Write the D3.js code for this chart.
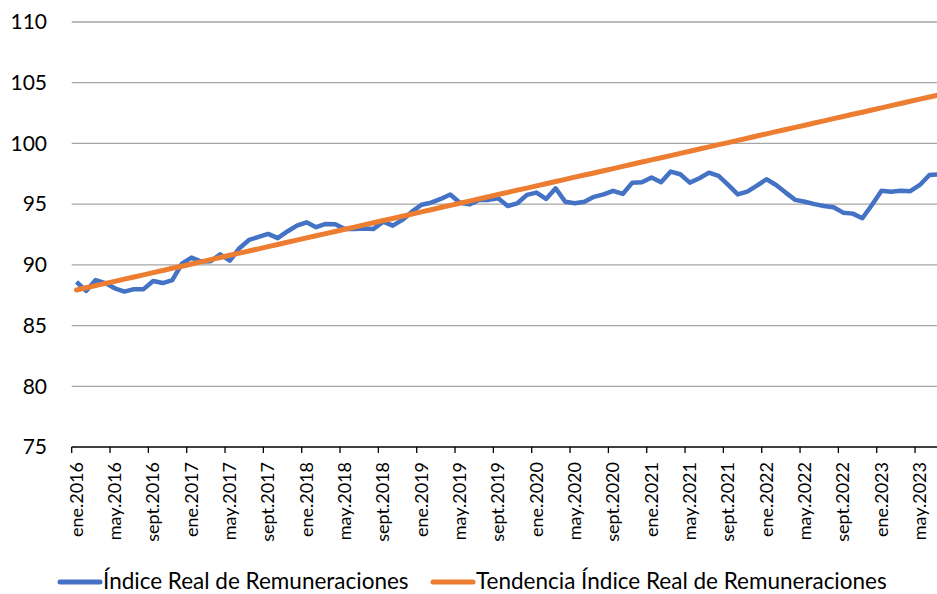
<!DOCTYPE html>
<html>
<head>
<meta charset="utf-8">
<script src="https://cdn.jsdelivr.net/npm/d3@7/dist/d3.min.js"></script>
<style>
  body { margin: 0; background: #fff; }
  svg { display: block; font-family: Lato, "Noto Sans", sans-serif; }
</style>
</head>
<body>
<div id="chart"></div>
<script>
// months and years used for the category labels
var months = ["ene", "feb", "mar", "abr", "may", "jun", "jul", "ago", "sept", "oct", "nov", "dic"]
var years = [2016, 2017, 2018, 2019, 2020, 2021, 2022, 2023]
var nMonths = 91 // ene.2016 .. jul.2023

var categories = []
for (var i = 0; i < nMonths; i++) {
  categories.push(months[i % 12] + "." + years[Math.floor(i / 12)])
}

// Indice Real de Remuneraciones
var indice = [
  88.6, 87.85, 88.75, 88.5, 88.07, 87.8, 88.0, 88.0, 88.67, 88.5, 88.75, 90.1,
  90.6, 90.27, 90.3, 90.87, 90.35, 91.37, 92.05, 92.3, 92.55, 92.2, 92.75, 93.23,
  93.5, 93.1, 93.37, 93.35, 92.96, 92.96, 93.0, 92.96, 93.56, 93.23, 93.7, 94.38,
  94.95, 95.12, 95.43, 95.8, 95.12, 94.98, 95.35, 95.35, 95.48, 94.85, 95.07, 95.76,
  95.95, 95.43, 96.3, 95.2, 95.07, 95.2, 95.6, 95.8, 96.1, 95.84, 96.77, 96.8,
  97.2, 96.8, 97.68, 97.46, 96.77, 97.13, 97.6, 97.32, 96.58, 95.8, 96.03, 96.52,
  97.05, 96.58, 95.95, 95.35, 95.2, 95.0, 94.85, 94.74, 94.3, 94.22, 93.84, 94.93,
  96.1, 96.03, 96.1, 96.07, 96.58, 97.4, 97.46
]

// Tendencia Indice Real de Remuneraciones
var tendencia = [
  87.93, 88.11, 88.29, 88.47, 88.64, 88.82, 89.00, 89.18, 89.36, 89.54, 89.72, 89.89,
  90.07, 90.25, 90.43, 90.61, 90.79, 90.97, 91.14, 91.32, 91.50, 91.68, 91.86, 92.04,
  92.22, 92.40, 92.57, 92.75, 92.93, 93.11, 93.29, 93.47, 93.65, 93.82, 94.00, 94.18,
  94.36, 94.54, 94.72, 94.90, 95.07, 95.25, 95.43, 95.61, 95.79, 95.97, 96.15, 96.32,
  96.50, 96.68, 96.86, 97.04, 97.22, 97.40, 97.57, 97.75, 97.93, 98.11, 98.29, 98.47,
  98.65, 98.82, 99.00, 99.18, 99.36, 99.54, 99.72, 99.90, 100.07, 100.25, 100.43, 100.61,
  100.79, 100.97, 101.15, 101.32, 101.50, 101.68, 101.86, 102.04, 102.22, 102.40, 102.57, 102.75,
  102.93, 103.11, 103.29, 103.47, 103.65, 103.82, 104.00
]

var yTicks = [75, 80, 85, 90, 95, 100, 105, 110]

var seriesNames = ["Índice Real de Remuneraciones", "Tendencia Índice Real de Remuneraciones"]
var colors = ["#4472C4", "#ED7D31"]

var W = 937, H = 594
var plotLeft = 71.7, plotRight = 943.8, plotTop = 22, plotBottom = 447

var svg = d3.select("#chart").append("svg")
  .attr("width", W)
  .attr("height", H)

var x = d3.scaleBand().domain(categories).range([plotLeft, plotRight]).padding(0)
var y = d3.scaleLinear().domain([75, 110]).range([plotBottom, plotTop])
var cx = function(i) { return x(categories[i]) + x.bandwidth() / 2 }

// gridlines
svg.append("g")
  .selectAll("line")
  .data(yTicks.slice(1))
  .enter()
  .append("line")
    .attr("x1", plotLeft)
    .attr("x2", plotRight)
    .attr("y1", function(d) { return y(d) })
    .attr("y2", function(d) { return y(d) })
    .style("stroke", "#a6a6a6")
    .style("stroke-width", 1.3)

// y labels
svg.append("g")
  .selectAll("text")
  .data(yTicks)
  .enter()
  .append("text")
    .attr("x", 47)
    .attr("y", function(d) { return y(d) })
    .attr("dy", "0.35em")
    .attr("text-anchor", "end")
    .style("font-size", "21px")
    .style("fill", "#000")
    .text(function(d) { return d })

// x axis line + ticks every 4 months at category boundaries
var labelIdx = d3.range(0, nMonths, 4)
svg.append("line")
  .attr("x1", plotLeft).attr("x2", plotRight)
  .attr("y1", plotBottom).attr("y2", plotBottom)
  .style("stroke", "#000").style("stroke-width", 1.5)

svg.append("g")
  .selectAll("line")
  .data(labelIdx)
  .enter()
  .append("line")
    .attr("x1", function(i) { return x(categories[i]) })
    .attr("x2", function(i) { return x(categories[i]) })
    .attr("y1", plotBottom)
    .attr("y2", plotBottom + 6)
    .style("stroke", "#000").style("stroke-width", 1.3)

svg.append("g")
  .selectAll("text")
  .data(labelIdx)
  .enter()
  .append("text")
    .attr("transform", function(i) { return "translate(" + cx(i) + "," + (plotBottom + 15) + ") rotate(-90)" })
    .attr("dy", "0.35em")
    .attr("text-anchor", "end")
    .style("font-size", "18px")
    .style("fill", "#000")
    .text(function(i) { return categories[i] })

// lines
var line = d3.line()
  .x(function(d, i) { return cx(i) })
  .y(function(d) { return y(d) })

svg.append("path")
  .datum(indice)
  .attr("d", line)
  .style("fill", "none")
  .style("stroke", colors[0])
  .style("stroke-width", 4.5)
  .style("stroke-linejoin", "round")

svg.append("path")
  .datum(tendencia)
  .attr("d", line)
  .style("fill", "none")
  .style("stroke", colors[1])
  .style("stroke-width", 5)
  .style("stroke-linecap", "round")

// legend
var legendX = [60, 433]
var leg = svg.append("g")
  .selectAll("g")
  .data(seriesNames)
  .enter()
  .append("g")
    .attr("transform", function(d, i) { return "translate(" + legendX[i] + ",582)" })

leg.append("line")
  .attr("x1", 0).attr("x2", 40)
  .style("stroke", function(d, i) { return colors[i] })
  .style("stroke-width", 5)
  .style("stroke-linecap", "round")

leg.append("text")
  .attr("x", 43)
  .attr("y", 7)
  .style("font-size", "22.5px")
  .style("fill", "#000")
  .text(function(d) { return d })
</script>
</body>
</html>
